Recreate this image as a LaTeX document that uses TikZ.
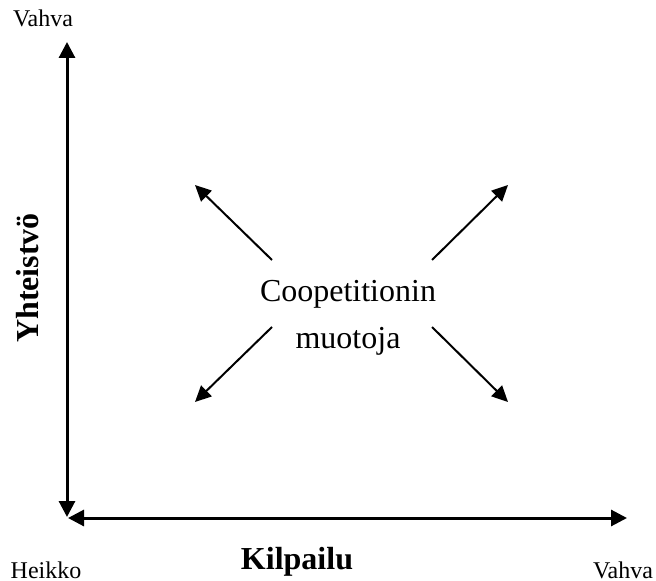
\documentclass[tikz,border=0pt]{standalone}
\usepackage{fontspec}
\setmainfont{Liberation Serif}
\usetikzlibrary{arrows.meta}

\begin{document}
\begin{tikzpicture}[x=0.5pt, y=-0.5pt]

\tikzstyle axis=[line width=1.5pt, {Triangle[length=8pt, width=8pt]}-{Triangle[length=8pt, width=8pt]}]
\tikzstyle form=[line width=1pt, -{Triangle[length=8pt, width=7.5pt]}]
\tikzstyle small=[font=\fontsize{12}{14}\selectfont]
\tikzstyle big=[font=\fontsize{16}{23.5}\selectfont]

\useasboundingbox (0,0) rectangle (656,581);

\coordinate (ybot) at (67,517);
\coordinate (ytop) at (67,42);
\coordinate (xleft) at (68,518);
\coordinate (xright) at (627,518);

\node (ymax) [small] at (43,18) {Vahva};
\node (min) [small] at (46,570) {Heikko};
\node (xmax) [small] at (623,570) {Vahva};
\node (xlab) [big, font=\fontsize{16}{22}\selectfont\bfseries] at (297,562) {Kilpailu};
\node (ylab) [big, font=\fontsize{16}{22}\selectfont\bfseries, rotate=90] at (28,278) {Yhteistvö};

\node (c) [big, align=center] at (348,318) {Coopetitionin\\muotoja};

\coordinate (s1) at (272,260);
\coordinate (s2) at (432,260);
\coordinate (s3) at (272,327);
\coordinate (s4) at (432,327);
\coordinate (t1) at (195,185);
\coordinate (t2) at (508,185);
\coordinate (t3) at (195,402);
\coordinate (t4) at (508,402);

\draw [axis] (ybot) -- (ytop);
\draw [axis] (xleft) -- (xright);

\foreach \i in {1,...,4}
{
\draw [form] (s\i) -- (t\i);
}

\end{tikzpicture}
\end{document}
